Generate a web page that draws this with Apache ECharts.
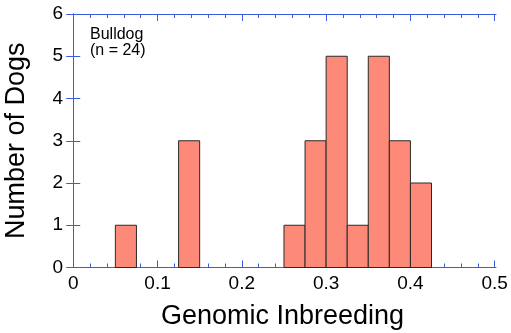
<!DOCTYPE html>
<html><head><meta charset="utf-8">
<script src="https://cdn.jsdelivr.net/npm/echarts@6/dist/echarts.min.js"></script>
<style>html,body{margin:0;padding:0;background:#fff}#c{width:511px;height:333px}</style>
</head><body><div id="c"></div>
<script>
var binStarts = [0.05, 0.125, 0.25, 0.275, 0.3, 0.325, 0.35, 0.375, 0.4];
var binWidth = 0.025;
var counts = [1, 3, 1, 3, 5, 1, 5, 3, 2];
var xTicks = [0, 0.1, 0.2, 0.3, 0.4, 0.5];
var xMinorTicks = [0.02, 0.04, 0.06, 0.08, 0.12, 0.14, 0.16, 0.18, 0.22, 0.24, 0.26, 0.28, 0.32, 0.34, 0.36, 0.38, 0.42, 0.44, 0.46, 0.48];
var xRange = [-0.005, 0.5015];
var yTicks = [0, 1, 2, 3, 4, 5, 6];
var annotation = 'Bulldog\n(n = 24)';
var xName = 'Genomic Inbreeding';
var yName = 'Number of Dogs';

var axisBlue = '#3a5ce0';
var font = 'Liberation Sans, Arial, Helvetica, sans-serif';
var data = binStarts.map(function (s, i) { return [s, s + binWidth, counts[i]]; });

function xAxisDef(pos, major, showLine) {
  return {
    type: 'value', position: pos, min: xRange[0], max: xRange[1],
    axisLine: { show: showLine, onZero: false, lineStyle: { color: axisBlue, width: 1 } },
    axisTick: { show: true, inside: true, length: major ? 7 : 4, customValues: major ? xTicks : xMinorTicks, lineStyle: { color: axisBlue } },
    axisLabel: { show: false },
    splitLine: { show: false }
  };
}

var xMain = xAxisDef('bottom', true, true);
xMain.name = xName;
xMain.nameLocation = 'middle';
xMain.nameGap = 36;
xMain.nameTextStyle = { fontFamily: font, fontSize: 27, color: '#000' };
xMain.axisLabel = { show: true, customValues: xTicks, fontFamily: font, fontSize: 19, color: '#000', margin: 7, formatter: function (v) { return String(v); } };

var chart = echarts.init(document.getElementById('c'));
chart.setOption({
  animation: false,
  grid: { left: 69, right: 15, top: 14, bottom: 65.5, containLabel: false, outerBoundsMode: 'none' },
  title: { text: annotation, left: 90, top: 27, padding: 0, textStyle: { fontFamily: font, fontSize: 16, fontWeight: 'normal', color: '#000', lineHeight: 16 } },
  xAxis: [xMain, xAxisDef('bottom', false, false), xAxisDef('top', true, true), xAxisDef('top', false, false)],
  yAxis: [{
    type: 'value', min: yTicks[0], max: yTicks[yTicks.length - 1], interval: 1,
    name: yName, nameLocation: 'middle', nameGap: 39, nameRotate: 90,
    nameTextStyle: { fontFamily: font, fontSize: 27, color: '#000' },
    axisLine: { show: true, lineStyle: { color: axisBlue, width: 1 } },
    axisTick: { show: true, inside: true, length: 7, lineStyle: { color: axisBlue } },
    axisLabel: { fontFamily: font, fontSize: 19, color: '#000', margin: 6 },
    splitLine: { show: false }
  }, {
    type: 'value', position: 'right', min: yTicks[0], max: yTicks[yTicks.length - 1], interval: 1,
    axisLine: { show: true, lineStyle: { color: axisBlue, width: 1 } },
    axisTick: { show: true, inside: true, length: 7, lineStyle: { color: axisBlue } },
    axisLabel: { show: false }, splitLine: { show: false }
  }],
  series: [{
    type: 'custom', xAxisIndex: 0, yAxisIndex: 0, data: data,
    renderItem: function (params, api) {
      var p0 = api.coord([api.value(0), api.value(2)]);
      var p1 = api.coord([api.value(1), 0]);
      return { type: 'rect', shape: { x: p0[0], y: p0[1], width: p1[0] - p0[0], height: p1[1] - p0[1] },
        style: { fill: '#fd8a78', stroke: '#2a2a2a', lineWidth: 1 } };
    },
    encode: { x: [0, 1], y: 2 }
  }]
});
</script></body></html>
